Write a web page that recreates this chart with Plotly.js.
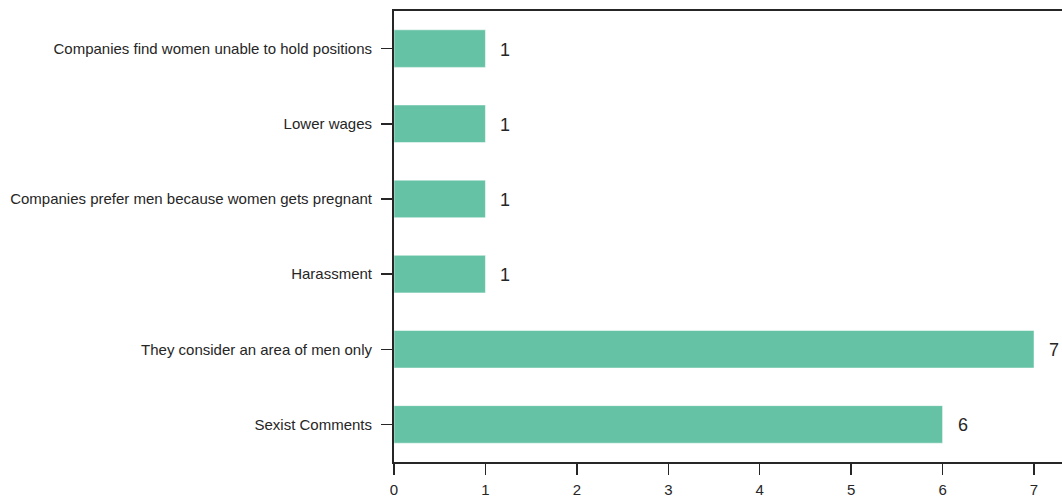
<!DOCTYPE html>
<html>
<head>
<meta charset="utf-8">
<script src="https://cdn.plot.ly/plotly-3.0.1.min.js"></script>
<style>html,body{margin:0;padding:0;overflow:hidden;background:#fff;}</style>
</head>
<body>
<div id="chart" style="width:1062px;height:498px;"></div>
<script>
const categories = [
  "Sexist Comments",
  "They consider an area of men only",
  "Harassment",
  "Companies prefer men because women gets pregnant",
  "Lower wages",
  "Companies find women unable to hold positions"
];
const counts = [6, 7, 1, 1, 1, 1];
const xTicks = [0, 1, 2, 3, 4, 5, 6, 7];

const axisColor = "#262626";
const fontFamily = "Liberation Sans, Arial, sans-serif";

const trace = {
  type: "bar",
  orientation: "h",
  y: categories,
  x: counts,
  width: 0.5,
  marker: {color: "#66c2a5", line: {color: "#ffffff", width: 0.5}},
  hoverinfo: "none"
};

const annotations = counts.map((v, i) => ({
  x: v, y: categories[i], xref: "x", yref: "y",
  text: String(v), showarrow: false,
  xanchor: "left", yanchor: "middle", xshift: 13, yshift: -1,
  font: {family: fontFamily, size: 18, color: axisColor}
}));

const layout = {
  width: 1062, height: 498,
  margin: {l: 393.5, r: 0, t: 11, b: 36, pad: 0},
  paper_bgcolor: "#fff", plot_bgcolor: "#fff",
  showlegend: false,
  bargap: 0.5,
  xaxis: {
    range: [0, 7.306],
    tickvals: xTicks, ticktext: xTicks.map(String),
    showgrid: false, zeroline: false,
    showline: true, mirror: true, linecolor: axisColor, linewidth: 2,
    ticks: "outside", ticklen: 11, tickwidth: 1.5, tickcolor: axisColor,
    ticklabelstandoff: 2,
    tickfont: {family: fontFamily, size: 15, color: axisColor}
  },
  yaxis: {
    categoryorder: "array", categoryarray: categories,
    range: [-0.5, 5.5],
    showgrid: false, zeroline: false,
    showline: true, linecolor: axisColor, linewidth: 2,
    ticks: "outside", ticklen: 11, tickwidth: 1.5, tickcolor: axisColor,
    ticklabelstandoff: 6,
    tickfont: {family: fontFamily, size: 15, color: axisColor}
  },
  annotations: annotations
};

Plotly.newPlot("chart", [trace], layout, {displayModeBar: false, staticPlot: true});
</script>
</body>
</html>
